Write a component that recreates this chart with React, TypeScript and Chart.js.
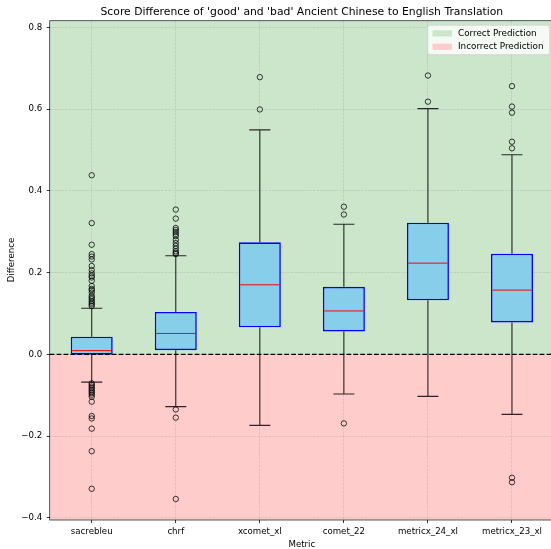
import React, { useEffect, useRef } from 'react';
import { Chart, registerables } from 'chart.js';

Chart.register(...registerables);

const categories = ['sacrebleu', 'chrf', 'xcomet_xl', 'comet_22', 'metricx_24_xl', 'metricx_23_xl'];
const q1 = [-0.001, 0.010, 0.066, 0.056, 0.132, 0.078];
const medians = [0.009, 0.051, 0.170, 0.106, 0.223, 0.157];
const q3 = [0.043, 0.1035, 0.274, 0.165, 0.322, 0.246];
const whiskerLow = [-0.068, -0.128, -0.174, -0.097, -0.103, -0.147];
const whiskerHigh = [0.1125, 0.241, 0.549, 0.318, 0.601, 0.488];

const sacrebleuOutliers = [0.438, 0.321, 0.268, 0.245, 0.239, 0.232, 0.216, 0.206, 0.198, 0.192, 0.188, 0.180, 0.167, 0.160, 0.157, 0.151, 0.143, 0.139, 0.135, 0.130, 0.126, 0.122, 0.118, -0.071, -0.075, -0.079, -0.083, -0.087, -0.091, -0.095, -0.099, -0.104, -0.116, -0.151, -0.157, -0.182, -0.237, -0.329];
const chrfOutliers = [0.354, 0.332, 0.309, 0.304, 0.299, 0.294, 0.289, 0.280, 0.272, 0.265, 0.258, 0.252, 0.248, 0.245, -0.135, -0.155, -0.354];
const xcometOutliers = [0.678, 0.599];
const cometOutliers = [0.361, 0.342, -0.169];
const metricx24Outliers = [0.682, 0.618];
const metricx23Outliers = [0.656, 0.606, 0.591, 0.520, 0.504, -0.302, -0.313];
const outliers = [sacrebleuOutliers, chrfOutliers, xcometOutliers, cometOutliers, metricx24Outliers, metricx23Outliers];

const yTicks = [-0.4, -0.2, 0.0, 0.2, 0.4, 0.6, 0.8];
const yMin = -0.4054;
const yMax = 0.8161;

const titleText = "Score Difference of 'good' and 'bad' Ancient Chinese to English Translation";
const xLabel = 'Metric';
const yLabel = 'Difference';
const legendLabels = ['Correct Prediction', 'Incorrect Prediction'];

const W = 560;
const H = 549;
const FONT = '"DejaVu Sans", Verdana, sans-serif';
const GREEN = '#cce6cc';
const RED = '#ffcccc';

export default function App() {
  const ref = useRef<HTMLCanvasElement>(null);

  useEffect(() => {
    const canvas = ref.current;
    if (!canvas) return;

    const boxPlugin = {
      id: 'boxDecor',
      beforeDraw(chart: any) {
        const { ctx, chartArea: a, scales } = chart;
        const y0 = scales.y.getPixelForValue(0);
        ctx.save();
        ctx.fillStyle = GREEN;
        ctx.fillRect(a.left, a.top, a.right - a.left, y0 - a.top);
        ctx.fillStyle = RED;
        ctx.fillRect(a.left, y0, a.right - a.left, a.bottom - y0);
        ctx.restore();
      },
      beforeDatasetsDraw(chart: any) {
        const { ctx, scales } = chart;
        const xs = scales.x;
        const ys = scales.y;
        ctx.save();
        ctx.strokeStyle = 'rgba(20,20,20,0.9)';
        ctx.lineWidth = 1.1;
        categories.forEach((c, i) => {
          const x = xs.getPixelForValue(i);
          const half = xs.getPixelForValue(i + 0.5) - x;
          const capHalf = half * 0.25;
          ctx.beginPath();
          ctx.moveTo(x, ys.getPixelForValue(q3[i]));
          ctx.lineTo(x, ys.getPixelForValue(whiskerHigh[i]));
          ctx.moveTo(x, ys.getPixelForValue(q1[i]));
          ctx.lineTo(x, ys.getPixelForValue(whiskerLow[i]));
          ctx.moveTo(x - capHalf, ys.getPixelForValue(whiskerHigh[i]));
          ctx.lineTo(x + capHalf, ys.getPixelForValue(whiskerHigh[i]));
          ctx.moveTo(x - capHalf, ys.getPixelForValue(whiskerLow[i]));
          ctx.lineTo(x + capHalf, ys.getPixelForValue(whiskerLow[i]));
          ctx.stroke();
        });
        ctx.restore();
      },
      afterDatasetsDraw(chart: any) {
        const { ctx, chartArea: a, scales } = chart;
        const xs = scales.x;
        const ys = scales.y;
        ctx.save();
        // medians
        ctx.strokeStyle = '#ff0000';
        ctx.lineWidth = 1;
        categories.forEach((c, i) => {
          const x = xs.getPixelForValue(i);
          const half = (xs.getPixelForValue(i + 0.5) - x) * 0.5;
          const my = ys.getPixelForValue(medians[i]);
          ctx.beginPath();
          ctx.moveTo(x - half + 1.4, my);
          ctx.lineTo(x + half - 1.4, my);
          ctx.stroke();
        });
        // zero line
        const y0 = ys.getPixelForValue(0);
        ctx.strokeStyle = '#000';
        ctx.lineWidth = 1.3;
        ctx.setLineDash([4.8, 2.1]);
        ctx.beginPath();
        ctx.moveTo(a.left, y0);
        ctx.lineTo(a.right, y0);
        ctx.stroke();
        ctx.setLineDash([]);
        // frame
        ctx.strokeStyle = 'rgba(0,0,0,0.8)';
        ctx.lineWidth = 0.8;
        ctx.strokeRect(a.left, a.top, a.right - a.left, a.bottom - a.top);
        // legend
        const lr = a.right - 4.3;
        const lt = a.top + 4.5;
        const lw = 122;
        const lh = 29.5;
        const ll = lr - lw;
        ctx.beginPath();
        if ((ctx as any).roundRect) (ctx as any).roundRect(ll, lt, lw, lh, 2.5);
        else ctx.rect(ll, lt, lw, lh);
        ctx.fillStyle = 'rgba(255,255,255,0.8)';
        ctx.fill();
        ctx.strokeStyle = '#d0d0d0';
        ctx.lineWidth = 0.8;
        ctx.stroke();
        const colors = [GREEN, RED];
        ctx.font = `8.8px ${FONT}`;
        ctx.textAlign = 'left';
        ctx.textBaseline = 'middle';
        legendLabels.forEach((lab, i) => {
          const cy = lt + 8.2 + i * 13.4;
          ctx.fillStyle = colors[i];
          ctx.fillRect(ll + 4.8, cy - 3.1, 19.5, 6.2);
          ctx.fillStyle = '#000';
          ctx.fillText(lab, ll + 30.3, cy);
        });
        // title
        const cx = (a.left + a.right) / 2;
        ctx.font = `10.8px ${FONT}`;
        ctx.textAlign = 'center';
        ctx.fillStyle = '#000';
        ctx.fillText(titleText, cx, 12.3);
        // x label
        ctx.font = `8.65px ${FONT}`;
        ctx.fillText(xLabel, cx, 544.3);
        // y label
        ctx.translate(11.7, 260);
        ctx.rotate(-Math.PI / 2);
        ctx.fillText(yLabel, 0, 0);
        ctx.restore();
      },
    };

    const outlierPoints: { x: string; y: number }[] = [];
    outliers.forEach((arr, i) => arr.forEach((v) => outlierPoints.push({ x: categories[i], y: v })));

    const gridColor = 'rgba(160,160,160,0.45)';

    const chart = new Chart(canvas, {
      type: 'bar',
      data: {
        labels: categories,
        datasets: [
          {
            type: 'bar',
            data: categories.map((_, i) => [q1[i], q3[i]]) as any,
            backgroundColor: '#87ceeb',
            borderColor: '#0000ff',
            borderWidth: 1.6,
            borderSkipped: false,
            barPercentage: 0.5,
            categoryPercentage: 1,
            order: 2,
          } as any,
          {
            type: 'scatter',
            data: outlierPoints as any,
            pointRadius: 2.7,
            pointBorderColor: 'rgba(0,0,0,0.85)',
            pointBackgroundColor: 'rgba(0,0,0,0)',
            pointBorderWidth: 0.9,
            order: 1,
          } as any,
        ],
      },
      options: {
        responsive: false,
        animation: false,
        devicePixelRatio: 1,
        events: [],
        layout: { padding: { left: 0, right: W - 554, top: 20.7, bottom: 0 } },
        plugins: {
          legend: { display: false },
          tooltip: { enabled: false },
          title: { display: false },
        },
        scales: {
          x: {
            type: 'category',
            offset: true,
            grid: {
              offset: false,
              color: gridColor,
              lineWidth: 0.7,
              tickColor: '#000',
              tickLength: 3,
              tickWidth: 0.8,
              tickBorderDash: [],
            },
            border: { display: false, dash: [2.6, 1.1] },
            ticks: { font: { family: FONT, size: 8.65 }, color: '#000', padding: 4, maxRotation: 0, autoSkip: false },
            afterFit: (s: any) => { s.height = H - 520; },
          },
          y: {
            type: 'linear',
            min: yMin,
            max: yMax,
            afterBuildTicks: (s: any) => { s.ticks = yTicks.map((v) => ({ value: v })); },
            grid: {
              color: gridColor,
              lineWidth: 0.7,
              tickColor: '#000',
              tickLength: 3,
              tickWidth: 0.8,
              tickBorderDash: [],
            },
            border: { display: false, dash: [2.6, 1.1] },
            ticks: {
              font: { family: FONT, size: 8.65 },
              color: '#000',
              padding: 4.4,
              callback: (v: any) => (v < 0 ? '\u2212' : '') + Math.abs(Number(v)).toFixed(1),
            },
            afterFit: (s: any) => { s.width = 49.7; },
          },
        },
      } as any,
      plugins: [boxPlugin],
    });

    return () => chart.destroy();
  }, []);

  return (
    <div style={{ position: 'absolute', left: 0, top: 0, width: 551, height: 549, overflow: 'hidden', background: '#fff' }}>
      <canvas ref={ref} width={W} height={H} style={{ display: 'block', width: W, height: H }} />
    </div>
  );
}
